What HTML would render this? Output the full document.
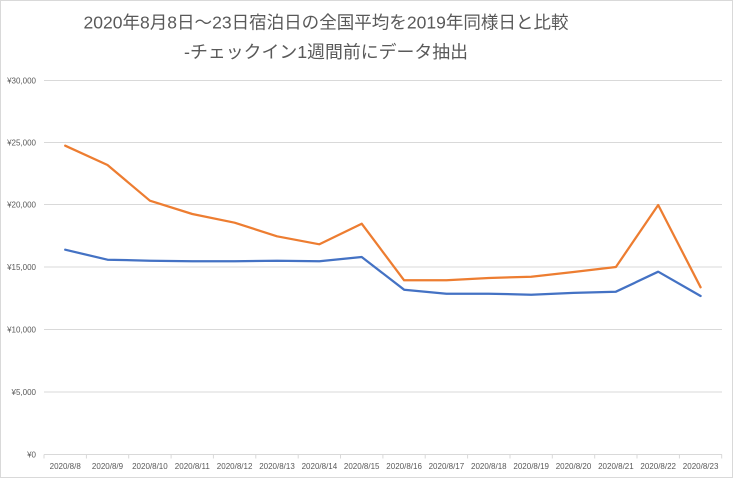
<!DOCTYPE html>
<html>
<head>
<meta charset="utf-8">
<style>
html,body{margin:0;padding:0;background:#fff;}
svg{display:block;}
text{font-family:"Liberation Sans","Noto Sans CJK JP",sans-serif;fill:#595959;}
</style>
</head>
<body>
<svg width="733" height="478" viewBox="0 0 733 478" xmlns="http://www.w3.org/2000/svg">
<rect x="0.5" y="0.5" width="732" height="477" fill="#fff" stroke="#d9d9d9" stroke-width="1"/>
<!-- title -->
<text x="83.5" y="28.5" font-size="17.5" textLength="485" lengthAdjust="spacingAndGlyphs">2020年8月8日～23日宿泊日の全国平均を2019年同様日と比較</text>
<text x="184" y="58" font-size="17.5" textLength="284" lengthAdjust="spacingAndGlyphs">-チェックイン1週間前にデータ抽出</text>
<!-- gridlines -->
<g stroke="#d9d9d9" stroke-width="1">
<line x1="44" y1="80.5" x2="722" y2="80.5"/>
<line x1="44" y1="142.5" x2="722" y2="142.5"/>
<line x1="44" y1="204.5" x2="722" y2="204.5"/>
<line x1="44" y1="267" x2="722" y2="267"/>
<line x1="44" y1="329.5" x2="722" y2="329.5"/>
<line x1="44" y1="392" x2="722" y2="392"/>
<line x1="44" y1="454.5" x2="722" y2="454.5"/>
<!-- ticks -->
<line x1="44" y1="454.5" x2="44" y2="458.5"/>
<line x1="86.4" y1="454.5" x2="86.4" y2="458.5"/>
<line x1="128.7" y1="454.5" x2="128.7" y2="458.5"/>
<line x1="171.1" y1="454.5" x2="171.1" y2="458.5"/>
<line x1="213.4" y1="454.5" x2="213.4" y2="458.5"/>
<line x1="255.8" y1="454.5" x2="255.8" y2="458.5"/>
<line x1="298.2" y1="454.5" x2="298.2" y2="458.5"/>
<line x1="340.5" y1="454.5" x2="340.5" y2="458.5"/>
<line x1="382.9" y1="454.5" x2="382.9" y2="458.5"/>
<line x1="425.2" y1="454.5" x2="425.2" y2="458.5"/>
<line x1="467.6" y1="454.5" x2="467.6" y2="458.5"/>
<line x1="510" y1="454.5" x2="510" y2="458.5"/>
<line x1="552.3" y1="454.5" x2="552.3" y2="458.5"/>
<line x1="594.7" y1="454.5" x2="594.7" y2="458.5"/>
<line x1="637" y1="454.5" x2="637" y2="458.5"/>
<line x1="679.4" y1="454.5" x2="679.4" y2="458.5"/>
<line x1="721.7" y1="454.5" x2="721.7" y2="458.5"/>
</g>
<!-- y labels -->
<g font-size="8" text-anchor="end">
<text x="36" y="83.5">¥30,000</text>
<text x="36" y="145.5">¥25,000</text>
<text x="36" y="207.5">¥20,000</text>
<text x="36" y="270">¥15,000</text>
<text x="36" y="332.5">¥10,000</text>
<text x="36" y="395">¥5,000</text>
<text x="36" y="457.5">¥0</text>
</g>
<!-- x labels -->
<g font-size="8" text-anchor="middle">
<text x="65.2" y="469">2020/8/8</text>
<text x="107.5" y="469">2020/8/9</text>
<text x="149.9" y="469">2020/8/10</text>
<text x="192.3" y="469">2020/8/11</text>
<text x="234.6" y="469">2020/8/12</text>
<text x="277" y="469">2020/8/13</text>
<text x="319.4" y="469">2020/8/14</text>
<text x="361.7" y="469">2020/8/15</text>
<text x="404.1" y="469">2020/8/16</text>
<text x="446.4" y="469">2020/8/17</text>
<text x="488.8" y="469">2020/8/18</text>
<text x="531.2" y="469">2020/8/19</text>
<text x="573.5" y="469">2020/8/20</text>
<text x="615.9" y="469">2020/8/21</text>
<text x="658.2" y="469">2020/8/22</text>
<text x="700.6" y="469">2020/8/23</text>
</g>
<!-- series -->
<polyline fill="none" stroke="#4472C4" stroke-width="2.25" stroke-linejoin="round" stroke-linecap="round"
points="65.2,249.7 107.5,259.7 149.9,260.7 192.3,261.3 234.6,261.3 277,260.7 319.4,261.3 361.7,257 404.1,289.7 446.4,293.7 488.8,293.7 531.2,294.7 573.5,292.9 615.9,291.7 658.2,271.7 700.6,296"/>
<polyline fill="none" stroke="#ED7D31" stroke-width="2.25" stroke-linejoin="round" stroke-linecap="round"
points="65.2,145.7 107.5,165 149.9,200.7 192.3,214 234.6,222.7 277,236.3 319.4,244.3 361.7,223.7 404.1,280.3 446.4,280.3 488.8,278 531.2,276.7 573.5,272 615.9,267 658.2,205 700.6,287.3"/>
</svg>
</body>
</html>
